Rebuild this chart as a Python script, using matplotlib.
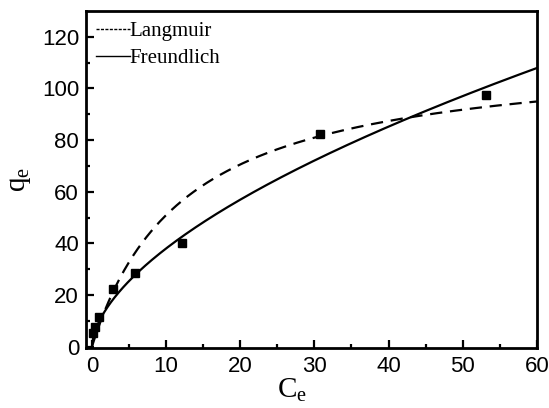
import numpy as np
import matplotlib.pyplot as plt
from matplotlib.lines import Line2D

ce = [0.2, 0.45, 0.95, 2.9, 5.8, 12.2, 30.8, 53.2]
qe = [5.5, 7.5, 11.5, 22.5, 28.5, 40.0, 82.5, 97.5]

# fitted isotherm parameters (estimated from the curves)
qm, kl = 114.8, 0.0798      # Langmuir
kf, inv_n = 9.96, 0.582     # Freundlich

c = np.linspace(0, 60, 400)
q_lang = qm * kl * c / (1 + kl * c)
q_freu = kf * c ** inv_n

fig = plt.figure(figsize=(5.49, 4.08), dpi=100)
ax = fig.add_axes([0.1566, 0.147, 0.8214, 0.826])

ax.plot(c, q_lang, color='black', lw=1.6, dashes=(5.5, 3.5))
ax.plot(c, q_freu, color='black', lw=1.6)
ax.plot(ce, qe, 's', color='black', ms=6)

ax.set_xlim(-0.8, 60)
ax.set_ylim(-0.5, 130)
ax.set_xticks(np.arange(0, 61, 10))
ax.set_xticks(np.arange(5, 60, 10), minor=True)
ax.set_yticks(np.arange(0, 121, 20))
ax.set_yticks(np.arange(10, 130, 20), minor=True)

for s in ax.spines.values():
    s.set_linewidth(2.0)
ax.tick_params(which='both', direction='in', top=False, right=False, width=1.6)
ax.tick_params(which='major', length=6)
ax.tick_params(which='minor', length=3)
ax.tick_params(axis='x', pad=6)
ax.tick_params(axis='y', pad=5)
for lab in ax.get_xticklabels() + ax.get_yticklabels():
    lab.set_fontfamily('Liberation Sans')
    lab.set_fontsize(16)

ax.set_xlabel(r'C$_{\mathregular{e}}$', fontfamily='Liberation Serif', fontsize=21)
ax.xaxis.set_label_coords(0.457, -0.085)
ax.set_ylabel(r'q$_{\mathregular{e}}$', fontfamily='Liberation Serif', fontsize=21, labelpad=6)

handles = [Line2D([], [], color='black', lw=1.0, dashes=(2.2, 1.0)),
           Line2D([], [], color='black', lw=1.0)]
ax.legend(handles, ['Langmuir', 'Freundlich'], loc='upper left', frameon=False,
          prop={'family': 'Liberation Serif', 'size': 15}, handlelength=1.6,
          handletextpad=0.0, borderaxespad=0.3, borderpad=0.2, labelspacing=0.35)

fig.savefig('out.png', dpi=100)
